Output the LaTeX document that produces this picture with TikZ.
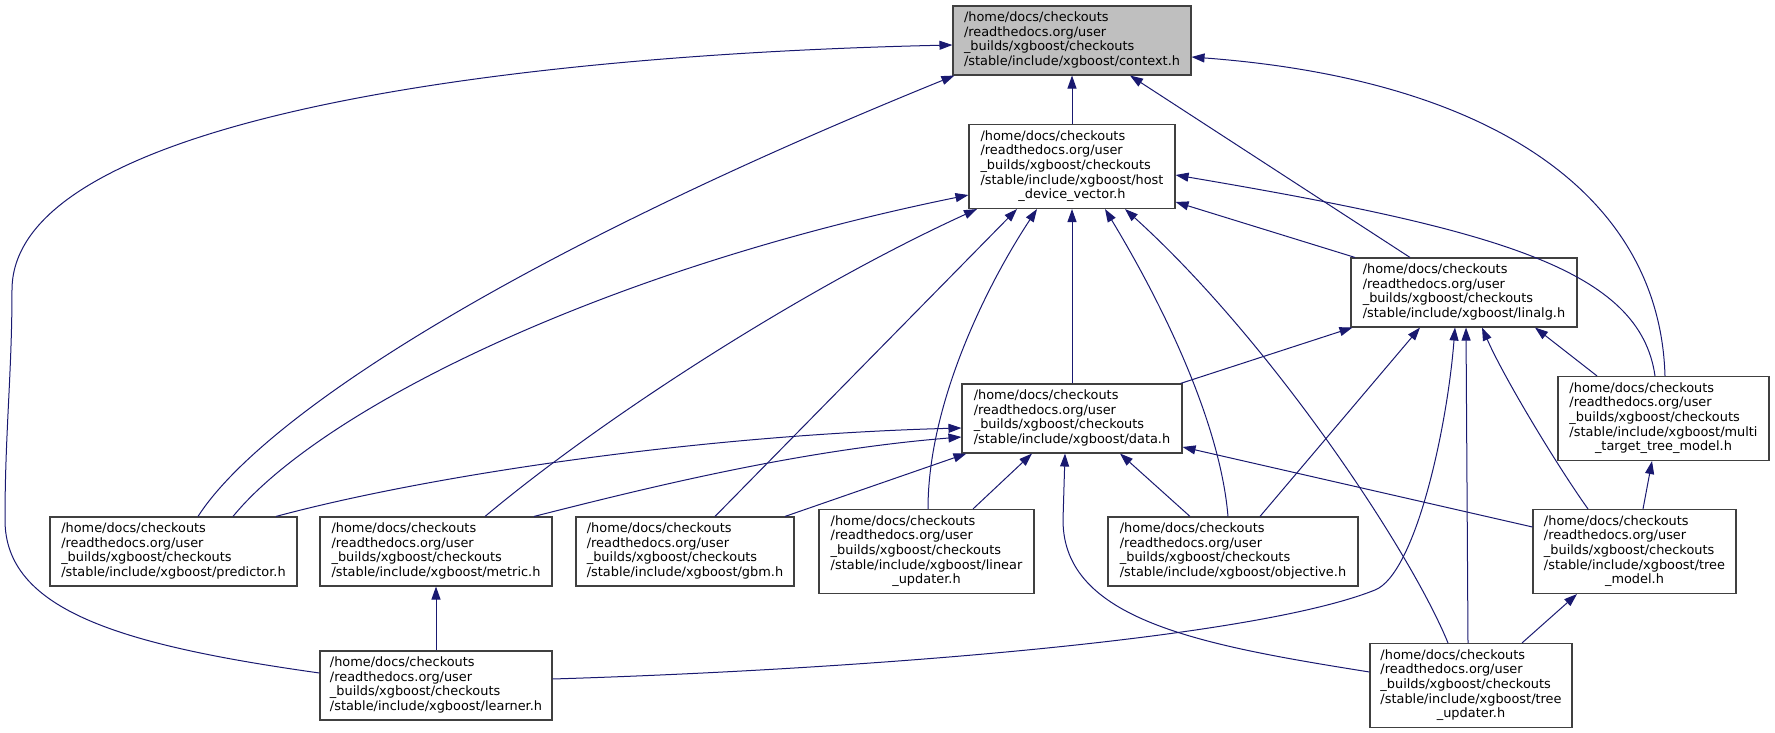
\documentclass[tikz,border=0pt]{standalone}
\usepackage{fontspec}
\setmainfont{DejaVu Sans}
\usepackage{tikz}
\usetikzlibrary{arrows.meta}

\definecolor{edgeblue}{HTML}{191970}
\definecolor{boxgray}{HTML}{BFBFBF}
\definecolor{boxline}{HTML}{404040}

\newcommand{\xgbfile}[1]{\begin{tabular}{@{}l@{}}/home/docs/checkouts\\/readthedocs.org/user\\\_builds/xgboost/checkouts\\/stable/include/xgboost/#1\end{tabular}}
\newcommand{\xgbfilebr}[2]{\begin{tabular}{@{}l@{}}/home/docs/checkouts\\/readthedocs.org/user\\\_builds/xgboost/checkouts\\/stable/include/xgboost/#1\\\multicolumn{1}{@{}c@{}}{#2}\end{tabular}}

\begin{document}
\begin{tikzpicture}[x=1pt, y=1pt,
  filebox/.style={draw=boxline, line width=1.1pt, fill=white, inner sep=0pt, minimum height=69pt, font={\fontsize{12.9}{14.7}\selectfont}},
  tallbox/.style={filebox, minimum height=84pt},
  dep/.style={draw=edgeblue, line width=1pt, -{Triangle[length=13pt,width=9pt]}}]
\useasboundingbox (0,0) rectangle (1775,733);
\node[filebox, fill=boxgray, minimum width=238pt] (ctx) at (1072,692.5) {\xgbfile{context.h}};
\node[tallbox, minimum width=206pt] (hdv) at (1072,566.5) {\xgbfilebr{host}{\_device\_vector.h}};
\node[filebox, minimum width=226pt] (linalg) at (1464,440.5) {\xgbfile{linalg.h}};
\node[filebox, minimum width=220pt] (data) at (1072,314.5) {\xgbfile{data.h}};
\node[tallbox, minimum width=211pt] (multi) at (1663.5,314.5) {\xgbfilebr{multi}{\_target\_tree\_model.h}};
\node[filebox, minimum width=247pt] (pred) at (173.5,181.5) {\xgbfile{predictor.h}};
\node[filebox, minimum width=232pt] (metric) at (436,181.5) {\xgbfile{metric.h}};
\node[filebox, minimum width=218pt] (gbm) at (685,181.5) {\xgbfile{gbm.h}};
\node[tallbox, minimum width=215pt] (linear) at (926.5,181.5) {\xgbfilebr{linear}{\_updater.h}};
\node[filebox, minimum width=250pt] (obj) at (1233,181.5) {\xgbfile{objective.h}};
\node[tallbox, minimum width=203pt] (treemodel) at (1634.5,181.5) {\xgbfilebr{tree}{\_model.h}};
\node[filebox, minimum width=232pt] (learner) at (436,47.5) {\xgbfile{learner.h}};
\node[tallbox, minimum width=202pt] (treeupd) at (1471,47.5) {\xgbfilebr{tree}{\_updater.h}};
% context.h
\draw[dep] (hdv.north) -- (ctx.south);
\draw[dep] ([yshift=12.5pt]learner.west) .. controls (120,88) and (5,123) .. (5,213)
  .. controls (5,300) and (12,360) .. (12,443)
  .. controls (12,613) and (500,678) .. ([yshift=-4.5pt]ctx.west);
\draw[dep] ([xshift=24.5pt]pred.north) .. controls (260,313) and (500,473) .. ([xshift=2pt]ctx.south west);
\draw[dep] ([xshift=-54pt]linalg.north) -- ([xshift=58pt]ctx.south);
\draw[dep] ([xshift=1.5pt]multi.north) .. controls (1660,533) and (1500,653) .. ([yshift=-16.5pt]ctx.east);
% host_device_vector.h
\draw[dep] (data.north) -- (hdv.south);
\draw[dep] ([xshift=59.5pt]pred.north) .. controls (320,323) and (600,463) .. ([yshift=-28.5pt]hdv.west);
\draw[dep] ([xshift=49pt]metric.north) .. controls (600,313) and (800,443) .. ([xshift=-95pt]hdv.south);
\draw[dep] ([xshift=30pt]gbm.north) -- ([xshift=-55pt]hdv.south);
\draw[dep] ([xshift=1.5pt]linear.north) .. controls (928,333) and (990,453) .. ([xshift=-35pt]hdv.south);
\draw[dep] ([xshift=-5pt]obj.north) .. controls (1220,313) and (1160,433) .. ([xshift=33pt]hdv.south);
\draw[dep] ([xshift=-23pt]treeupd.north) .. controls (1410,183) and (1270,393) .. ([xshift=53pt]hdv.south);
\draw[dep] ([xshift=-109pt]linalg.north) -- ([yshift=-35.5pt]hdv.east);
\draw[dep] ([xshift=-8.5pt]multi.north) .. controls (1640,463) and (1500,503) .. ([yshift=-8.5pt]hdv.east);
% linalg.h
\draw[dep] ([xshift=-2pt]data.north east) -- ([xshift=2pt]linalg.south west);
\draw[dep] ([xshift=27pt]obj.north) -- ([xshift=-44pt]linalg.south);
\draw[dep] ([yshift=6.5pt]learner.east) .. controls (850,63) and (1250,93) .. (1375,143)
  .. controls (1415,159) and (1447,303) .. ([xshift=-9pt]linalg.south);
\draw[dep] ([xshift=-3pt]treeupd.north) -- ([xshift=2pt]linalg.south);
\draw[dep] ([xshift=-46.5pt]treemodel.north) .. controls (1560,263) and (1505,353) .. ([xshift=18pt]linalg.south);
\draw[dep] ([xshift=-66.5pt]multi.north) -- ([xshift=71pt]linalg.south);
% data.h
\draw[dep] ([xshift=102.5pt]pred.north) .. controls (430,258) and (700,298) .. ([yshift=-9.5pt]data.west);
\draw[dep] ([xshift=98pt]metric.north) .. controls (650,246) and (800,283) .. ([yshift=-18.5pt]data.west);
\draw[dep] ([xshift=100pt]gbm.north) -- ([xshift=5pt]data.south west);
\draw[dep] ([xshift=46.5pt]linear.north) -- ([xshift=-40pt]data.south);
\draw[dep] ([xshift=-43pt]obj.north) -- ([xshift=48pt]data.south);
\draw[dep] ([yshift=13.5pt]treeupd.west) .. controls (1200,88) and (1063,113) .. (1063,213) -- ([xshift=-7pt]data.south);
\draw[dep] ([yshift=24.5pt]treemodel.west) -- ([yshift=-28.5pt]data.east);
% the rest
\draw[dep] ([xshift=8.5pt]treemodel.north) -- ([xshift=-11.5pt]multi.south);
\draw[dep] (learner.north) -- (metric.south);
\draw[dep] ([xshift=51pt]treeupd.north) -- ([xshift=-57.5pt]treemodel.south);
\end{tikzpicture}
\end{document}
